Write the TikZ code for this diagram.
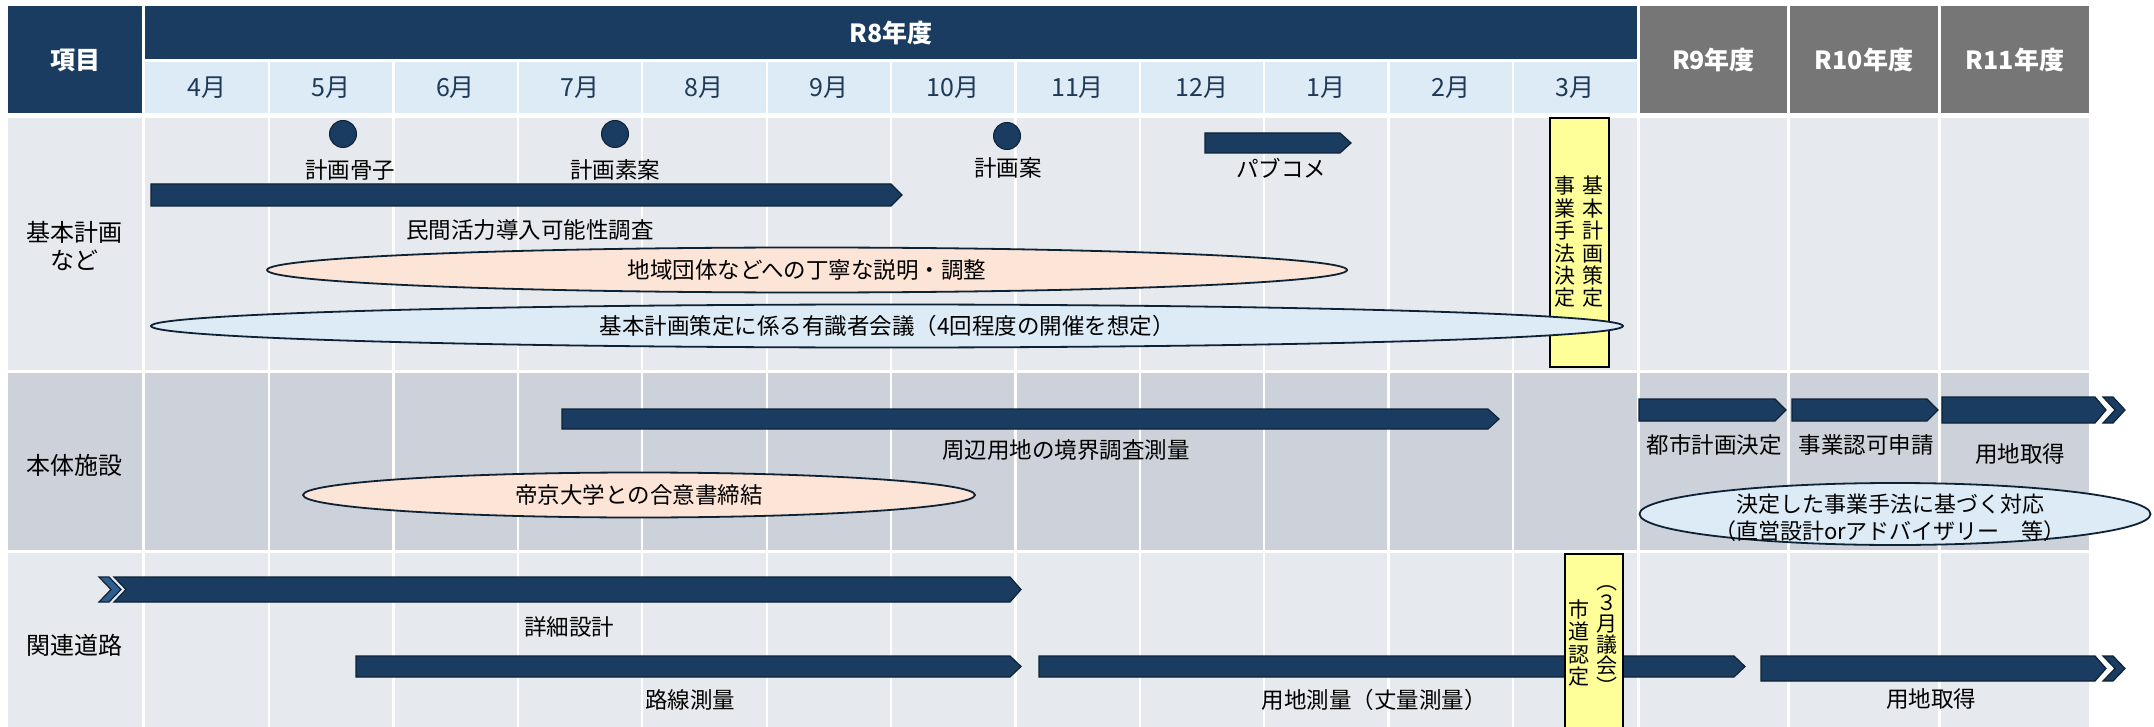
\documentclass[tikz,border=0pt]{standalone}
\usepackage{fontspec}
\setmainfont{Noto Sans CJK JP}
\usetikzlibrary{calc,shapes.geometric}
\definecolor{navy}{HTML}{1B3C61}
\definecolor{navyline}{HTML}{0E2236}
\definecolor{chevblue}{HTML}{2E5E8E}
\definecolor{monthblue}{HTML}{DDEBF7}
\definecolor{monthtext}{HTML}{1F3A56}
\definecolor{futuregrey}{HTML}{767676}
\definecolor{rowlight}{HTML}{E6E9ED}
\definecolor{rowdark}{HTML}{CDD2DA}
\definecolor{peach}{HTML}{FCE4D6}
\definecolor{paleblue}{HTML}{DDEBF7}
\definecolor{memoyellow}{HTML}{FFFF99}
\def\taskbar[#1](#2:#3:#4:#5){\draw[#1] (#2,#4) -- ({#3-11},#4) -- (#3,{(#4+#5)/2}) -- ({#3-11},#5) -- (#2,#5) -- cycle;}
\def\tailbar[#1](#2:#3:#4:#5){\draw[#1] (#2,#4) -- ({#3-11},#4) -- (#3,{(#4+#5)/2}) -- ({#3-11},#5) -- (#2,#5) -- ({#2+12},{(#4+#5)/2}) -- cycle;}
\def\chevronmark[#1](#2:#3:#4){\draw[#1] (#2,#3) -- ({#2+10},#3) -- ({#2+22},{(#3+#4)/2}) -- ({#2+10},#4) -- (#2,#4) -- ({#2+12},{(#3+#4)/2}) -- cycle;}

\begin{document}
\begin{tikzpicture}[x=1pt, y=-1pt,
		lbl/.style={inner sep=0pt, font=\fontsize{22.5}{27}\selectfont},
		headlbl/.style={inner sep=0pt, text=white, font=\bfseries\fontsize{25}{28}\selectfont},
		monthlbl/.style={inner sep=0pt, text=monthtext, font=\fontsize{25}{27}\selectfont},
		rowlbl/.style={inner sep=0pt, align=center, font=\fontsize{24}{28}\selectfont},
		vlbl/.style={inner sep=0pt, align=center, font=\fontsize{21}{22.4}\selectfont},
		milestone/.style={circle, fill=navy, draw=navyline, line width=1pt, minimum size=27pt, inner sep=0pt},
		oval/.style={ellipse, draw=navyline, line width=1.8pt, inner sep=0pt, font=\fontsize{22.5}{27}\selectfont},
		memobox/.style={fill=memoyellow, draw=black, line width=1.6pt, inner sep=0pt},
		taskfill/.style={fill=navy, draw=navyline, line width=1.2pt}]
			%%%%% START %%%%%
			\useasboundingbox (0,0) rectangle (2154,727);
			
			% header
			\draw[fill=navy, draw=none] (8,6) rectangle (142,113);
			\node[headlbl] (hKoumoku) at (75,60) {項目};
			\draw[fill=navy, draw=none] (145,6) rectangle (1637,59);
			\node[headlbl] (hR8) at (891,33) {R8年度};
			\draw[fill=monthblue, draw=none] (145,62) rectangle (1637,113);
			\draw[fill=futuregrey, draw=none] (1640,6) rectangle (1787,113);
			\node[headlbl] (hR9) at (1713.5,60) {R9年度};
			\draw[fill=futuregrey, draw=none] (1790,6) rectangle (1938,113);
			\node[headlbl] (hR10) at (1864,60) {R10年度};
			\draw[fill=futuregrey, draw=none] (1941,6) rectangle (2089,113);
			\node[headlbl] (hR11) at (2015,60) {R11年度};
			
			\node[monthlbl] (mApr) at (206.7,87.5) {4月};
			\node[monthlbl] (mMay) at (331.1,87.5) {5月};
			\node[monthlbl] (mJun) at (455.5,87.5) {6月};
			\node[monthlbl] (mJul) at (579.9,87.5) {7月};
			\node[monthlbl] (mAug) at (704.3,87.5) {8月};
			\node[monthlbl] (mSep) at (828.7,87.5) {9月};
			\node[monthlbl] (mOct) at (953.1,87.5) {10月};
			\node[monthlbl] (mNov) at (1077.5,87.5) {11月};
			\node[monthlbl] (mDec) at (1201.9,87.5) {12月};
			\node[monthlbl] (mJan) at (1326.3,87.5) {1月};
			\node[monthlbl] (mFeb) at (1450.7,87.5) {2月};
			\node[monthlbl] (mMar) at (1575.1,87.5) {3月};
			
			% rows
			\draw[fill=rowlight, draw=none] (8,118) rectangle (2089,370);
			\draw[fill=rowdark, draw=none] (8,373) rectangle (2089,550);
			\draw[fill=rowlight, draw=none] (8,553) rectangle (2089,727);
			
			\draw[white, line width=3pt] (143.5,118) -- (143.5,727) (1638.5,118) -- (1638.5,727) (1788.5,118) -- (1788.5,727) (1939.5,118) -- (1939.5,727);
			\draw[white, line width=2.5pt] (269,62) -- (269,727) (393.5,62) -- (393.5,727) (518,62) -- (518,727) (642,62) -- (642,727) (767,62) -- (767,727) (891,62) -- (891,727);
			\draw[white, line width=2.5pt] (1015.5,62) -- (1015.5,727) (1140,62) -- (1140,727) (1264,62) -- (1264,727) (1388.5,62) -- (1388.5,727) (1513,62) -- (1513,727);
			
			\node[rowlbl] (rKihon) at (75,246) {基本計画\\など};
			\node[rowlbl] (rHontai) at (75,465) {本体施設};
			\node[rowlbl] (rDouro) at (75,645) {関連道路};
			
			% row 1
			\node[milestone] (msKossi) at (343,134) {};
			\node[lbl] (tKossi) at (350,170) {計画骨子};
			\node[milestone] (msSoan) at (615,134) {};
			\node[lbl] (tSoan) at (615,170) {計画素案};
			\node[milestone] (msKeikaku) at (1007,136) {};
			\node[lbl] (tKeikaku) at (1008,168) {計画案};
			
			\taskbar[taskfill](1205:1351:133:153)
			\node[lbl] (tPubcom) at (1281,168) {パブコメ};
			\taskbar[taskfill](151:902:184:206)
			\node[lbl] (tMinkan) at (530,230) {民間活力導入可能性調査};
			
			\node[memobox, minimum width=59pt, minimum height=249pt] (boxKihon) at (1579.5,242.5) {};
			\node[vlbl] (vKihon) at (1593,242) {基\\本\\計\\画\\策\\定};
			\node[vlbl] (vJigyo) at (1565,242) {事\\業\\手\\法\\決\\定};
			
			\node[oval, fill=peach, minimum width=1080pt, minimum height=45pt] (ovChiiki) at (807,270) {地域団体などへの丁寧な説明・調整};
			\node[oval, fill=paleblue, minimum width=1472pt, minimum height=43pt] (ovYushiki) at (887,326) {基本計画策定に係る有識者会議（4回程度の開催を想定）};
			
			% row 2
			\taskbar[taskfill](562:1499:409:429)
			\node[lbl] (tKyokai) at (1066,450) {周辺用地の境界調査測量};
			\node[oval, fill=peach, minimum width=672pt, minimum height=45pt] (ovTeikyo) at (639,495) {帝京大学との合意書締結};
			
			\taskbar[taskfill](1639:1786:399:421)
			\node[lbl] (tToshi) at (1714,445) {都市計画決定};
			\taskbar[taskfill](1792:1938:399:421)
			\node[lbl] (tNinka) at (1866,445) {事業認可申請};
			\taskbar[taskfill](1942:2106:397:423)
			\chevronmark[taskfill](2103:397:423)
			\node[lbl] (tShutoku) at (2020,454) {用地取得};
			
			\node[oval, fill=paleblue, minimum width=511pt, minimum height=62pt] (ovTaio) at (1895,514) {};
			\node[lbl, align=center, font=\fontsize{22}{27}\selectfont] (tTaio) at (1890,518) {決定した事業手法に基づく対応\\（直営設計orアドバイザリー　等）};
			
			% row 3
			\chevronmark[taskfill, fill=chevblue](99:577:602)
			\tailbar[taskfill](114:1021:577:602)
			\node[lbl] (tShosai) at (569,627) {詳細設計};
			\taskbar[taskfill](356:1021:656:677)
			\node[lbl] (tRosen) at (690,700) {路線測量};
			\taskbar[taskfill](1039:1745:656:677)
			\node[lbl] (tYochi) at (1374,700) {用地測量（丈量測量）};
			\taskbar[taskfill](1761:2106:656:681)
			\chevronmark[taskfill](2103:656:681)
			\node[lbl] (tShutoku2) at (1931,699) {用地取得};
			
			\node[memobox, minimum width=58pt, minimum height=180pt] (boxShido) at (1594,644) {};
			\node[vlbl, font=\fontsize{21}{21}\selectfont] (vGikai) at (1607,640) {︵\\３\\月\\議\\会\\︶};
			\node[vlbl] (vShido) at (1579,643) {市\\道\\認\\定};
			
			%%%%% END %%%%%
\end{tikzpicture}
\end{document}
